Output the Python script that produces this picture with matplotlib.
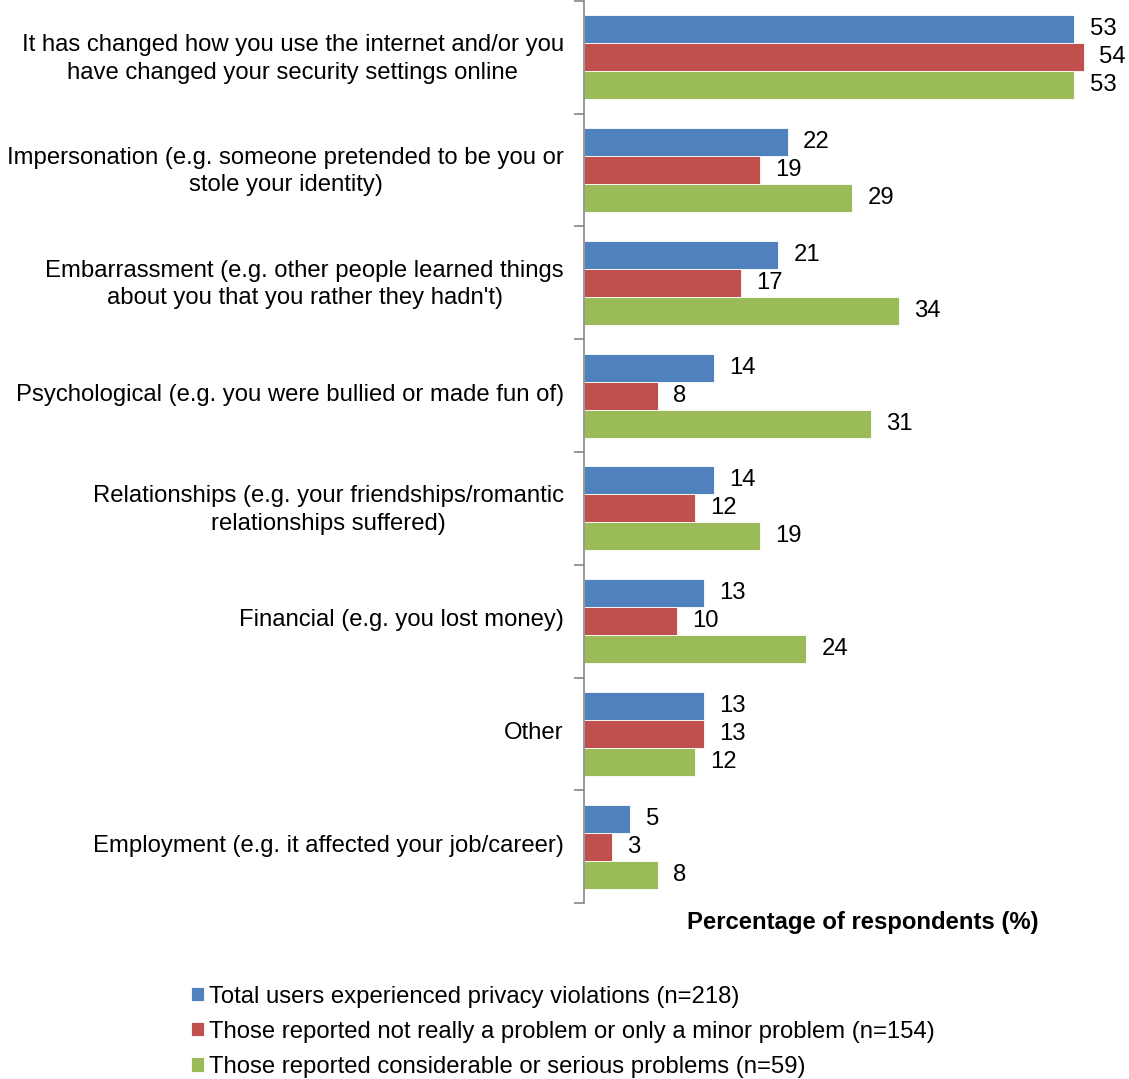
import matplotlib.pyplot as plt
import matplotlib as mpl
import numpy as np

categories = [
    "It has changed how you use the internet and/or you\nhave changed your security settings online",
    "Impersonation (e.g. someone pretended to be you or\nstole your identity)",
    "Embarrassment (e.g. other people learned things\nabout you that you rather they hadn't)",
    "Psychological (e.g. you were bullied or made fun of)",
    "Relationships (e.g. your friendships/romantic\nrelationships suffered)",
    "Financial (e.g. you lost money)",
    "Other",
    "Employment (e.g. it affected your job/career)",
]
total_users = [53, 22, 21, 14, 14, 13, 13, 5]
minor_problem = [54, 19, 17, 8, 12, 10, 13, 3]
serious_problem = [53, 29, 34, 31, 19, 24, 12, 8]

series_labels = [
    "Total users experienced privacy violations (n=218)",
    "Those reported not really a problem or only a minor problem (n=154)",
    "Those reported considerable or serious problems (n=59)",
]
colors = ["#4F81BD", "#C0504D", "#9BBB59"]

mpl.rcParams['font.family'] = ['Liberation Sans', 'DejaVu Sans']
fs = 17.2

fig = plt.figure(figsize=(11.29, 10.79), dpi=100)
ax = fig.add_axes([0.5173, 0.1631, 0.4916, 0.836])

y = np.arange(len(categories))
h = 0.248
for i, vals in enumerate([total_users, minor_problem, serious_problem]):
    bars = ax.barh(y + (i - 1) * h, vals, height=h, color=colors[i],
                   edgecolor='white', linewidth=0.6, label=series_labels[i])
    ax.bar_label(bars, labels=[str(v) for v in vals], padding=11, fontsize=fs)

ax.set_xlim(0, 60)
ax.set_ylim(len(categories) - 0.5, -0.5)

# boundary ticks on the spine, labels near category centres
ax.set_yticks(np.arange(len(categories) + 1) - 0.5)
ax.set_yticklabels([])
ax.tick_params(axis='y', which='major', direction='out', length=7, width=1.2,
               color='#868686')
ax.set_yticks(y - 0.03, minor=True)
ax.set_yticklabels(categories, minor=True, fontsize=fs, ha='right',
                   multialignment='center', linespacing=1.3)
ax.tick_params(axis='y', which='minor', length=0, pad=14.5)

ax.set_xticks([])
for s in ['top', 'right', 'bottom']:
    ax.spines[s].set_visible(False)
ax.spines['left'].set_color('#868686')
ax.spines['left'].set_linewidth(1.2)

fig.text(863 / 1129, 1 - 922 / 1079, "Percentage of respondents (%)",
         fontsize=fs, fontweight='bold', ha='center', va='center')

fig.legend(loc='upper left', bbox_to_anchor=(0.1605, 0.0955), frameon=False,
           fontsize=fs, handlelength=0.55, handleheight=0.55,
           handletextpad=0.22, labelspacing=0.55, borderaxespad=0)

fig.savefig('out.png', dpi=100)
